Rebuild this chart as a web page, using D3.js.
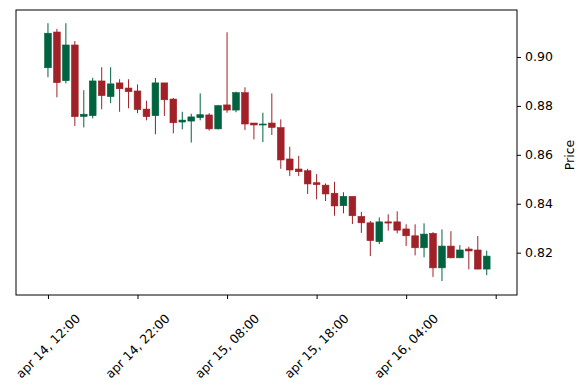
<!DOCTYPE html>
<html lang="en">
<head>
    <meta charset="UTF-8">
    <script type="text/javascript" src="https://cdn.jsdelivr.net/npm/d3@7/dist/d3.min.js"></script>
    <title>candles</title>
    <style>
        body { margin: 0; background: #fff; }
        text { font-family: "DejaVu Sans", sans-serif; }
    </style>
</head>
<body>

</body>
<script>

    // hourly candles starting apr 14, 12:00
    let opens = [0.8956, 0.9102, 0.8903, 0.9049, 0.8757, 0.8760, 0.8902, 0.8838, 0.8894, 0.8873,
        0.8861, 0.8787, 0.8760, 0.8894, 0.8828, 0.8734, 0.8738, 0.8752, 0.8763, 0.8706,
        0.8804, 0.8783, 0.8854, 0.8730, 0.8723, 0.8730, 0.8711, 0.8583, 0.8542, 0.8535,
        0.8486, 0.8476, 0.8443, 0.8392, 0.8430, 0.8348, 0.8322, 0.8245, 0.8326, 0.8326,
        0.8297, 0.8269, 0.8220, 0.8279, 0.8138, 0.8227, 0.8179, 0.8215, 0.8211, 0.8133];
    let highs = [0.9138, 0.9115, 0.9138, 0.9065, 0.8864, 0.8915, 0.8958, 0.8958, 0.8909, 0.8909,
        0.8888, 0.8821, 0.8914, 0.8894, 0.8832, 0.8776, 0.8768, 0.8851, 0.8770, 0.8804,
        0.9101, 0.8858, 0.8876, 0.8730, 0.8772, 0.8851, 0.8745, 0.8633, 0.8596, 0.8543,
        0.8521, 0.8483, 0.8490, 0.8447, 0.8430, 0.8367, 0.8330, 0.8344, 0.8357, 0.8369,
        0.8316, 0.8316, 0.8320, 0.8284, 0.8295, 0.8288, 0.8231, 0.8224, 0.8268, 0.8208];
    let lows = [0.8917, 0.8835, 0.8892, 0.8718, 0.8712, 0.8749, 0.8786, 0.8811, 0.8776, 0.8790,
        0.8770, 0.8741, 0.8684, 0.8759, 0.8688, 0.8704, 0.8650, 0.8741, 0.8699, 0.8704,
        0.8772, 0.8774, 0.8701, 0.8663, 0.8652, 0.8681, 0.8543, 0.8513, 0.8513, 0.8440,
        0.8418, 0.8411, 0.8351, 0.8361, 0.8317, 0.8281, 0.8186, 0.8235, 0.8290, 0.8279,
        0.8227, 0.8189, 0.8181, 0.8101, 0.8084, 0.8177, 0.8178, 0.8132, 0.8132, 0.8108];
    let closes = [0.9097, 0.8895, 0.9049, 0.8756, 0.8766, 0.8902, 0.8842, 0.8890, 0.8870, 0.8858,
        0.8785, 0.8756, 0.8894, 0.8825, 0.8731, 0.8742, 0.8755, 0.8764, 0.8706, 0.8801,
        0.8783, 0.8854, 0.8726, 0.8722, 0.8726, 0.8712, 0.8579, 0.8538, 0.8531, 0.8481,
        0.8478, 0.8440, 0.8391, 0.8430, 0.8351, 0.8322, 0.8249, 0.8326, 0.8321, 0.8292,
        0.8269, 0.8220, 0.8276, 0.8138, 0.8227, 0.8179, 0.8211, 0.8207, 0.8133, 0.8186];

    let xTickIndex = [0, 10, 20, 30, 40, 50];
    let xTickLabels = ["apr 14, 12:00", "apr 14, 22:00", "apr 15, 08:00", "apr 15, 18:00", "apr 16, 04:00", ""];
    let yTicks = [0.82, 0.84, 0.86, 0.88, 0.90];

    let width = 587,
        height = 390,
        plotLeft = 16,
        plotRight = 517,
        plotTop = 10,
        plotBottom = 295,
        upColor = "#006340",
        downColor = "#a02128",
        x = d3.scaleLinear()
            .domain([-3.57, 52.38])
            .range([plotLeft, plotRight]),
        y = d3.scaleLinear()
            .domain([0.8027, 0.9192])
            .range([plotBottom, plotTop]);

    let data = opens.map(function (o, i) {
        return {i: i, o: o, h: highs[i], l: lows[i], c: closes[i]};
    });

    let svg = d3.select("body")
        .append("svg")
        .attr("width", width)
        .attr("height", height);

    let step = x(1) - x(0),
        bodyW = step * 0.75;

    let candles = svg.append("g").selectAll("g")
        .data(data)
        .enter()
        .append("g");

    candles.append("line")
        .attr("x1", d => x(d.i))
        .attr("x2", d => x(d.i))
        .attr("y1", d => y(d.h))
        .attr("y2", d => y(d.l))
        .attr("stroke", d => d.c >= d.o ? upColor : downColor)
        .attr("stroke-width", 1);

    candles.append("rect")
        .attr("x", d => x(d.i) - bodyW / 2)
        .attr("width", bodyW)
        .attr("y", d => y(Math.max(d.o, d.c)))
        .attr("height", d => Math.max(1, Math.abs(y(d.o) - y(d.c))))
        .attr("fill", d => d.c >= d.o ? upColor : downColor)
        .attr("stroke", d => d.c >= d.o ? upColor : downColor)
        .attr("stroke-width", 0.6);

    // frame
    svg.append("rect")
        .attr("x", plotLeft)
        .attr("y", plotTop)
        .attr("width", plotRight - plotLeft)
        .attr("height", plotBottom - plotTop)
        .attr("fill", "none")
        .attr("stroke", "#000")
        .attr("stroke-width", 1);

    // right y axis
    let yAxis = d3.axisRight(y)
        .tickValues(yTicks)
        .tickFormat(d3.format(".2f"))
        .tickSize(4)
        .tickPadding(4);

    let yg = svg.append("g")
        .attr("transform", "translate(" + plotRight + ",0)")
        .call(yAxis);
    yg.select(".domain").remove();
    yg.selectAll("text")
        .style("font-size", "12.5px")
        .style("font-family", "DejaVu Sans")
        .attr("fill", "#000");
    yg.selectAll("line").attr("stroke", "#000");

    svg.append("text")
        .attr("transform", "translate(574,155) rotate(-90)")
        .attr("text-anchor", "middle")
        .style("font-size", "12.5px")
        .text("Price");

    // bottom x axis
    let xAxis = d3.axisBottom(x)
        .tickValues(xTickIndex)
        .tickFormat("")
        .tickSize(4);

    let xg = svg.append("g")
        .attr("transform", "translate(0," + plotBottom + ")")
        .call(xAxis);
    xg.select(".domain").remove();
    xg.selectAll("line").attr("stroke", "#000");

    svg.append("g").selectAll("text")
        .data(xTickIndex)
        .enter()
        .append("text")
        .attr("transform", d => "translate(" + x(d) + ",346) rotate(-45)")
        .attr("text-anchor", "middle")
        .attr("dominant-baseline", "central")
        .style("font-size", "12.5px")
        .text((d, i) => xTickLabels[i]);

</script>
</html>
